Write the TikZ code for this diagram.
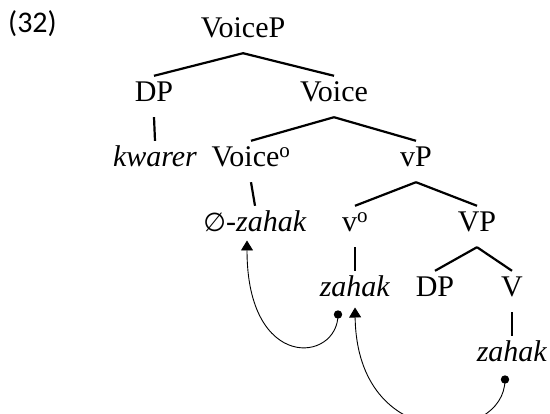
\documentclass[tikz,border=0pt]{standalone}
\usepackage{fontspec}
\setmainfont{Liberation Serif}
\newfontfamily\labelfont{Carlito}
\newfontfamily\symfont{DejaVu Sans}
\usetikzlibrary{arrows.meta,calc}
\tikzset{
  lbl/.style={anchor=base, font=\fontsize{30}{32}\selectfont, text height=17pt, text depth=6pt, inner ysep=9pt, inner xsep=0pt},
  branch/.style={line width=2.2pt},
  mv/.style={line width=0.9pt, -{Triangle[width=12pt,length=10pt]}},
  dotc/.style={fill=black}
}
\begin{document}
\begin{tikzpicture}[x=1pt,y=-1pt]
\useasboundingbox (0,0) rectangle (550,414);
\node[anchor=base west, inner sep=0pt, font=\labelfont\fontsize{30}{32}\selectfont] (num) at (8,33) {(32)};
% level 1
\node[lbl] (voicep) at (243,38) {VoiceP};
% level 2
\node[lbl] (dp1) at (154,102) {DP};
\node[lbl] (voice) at (334,102) {Voice};
% level 3
\node[lbl] (kwarer) at (155,167) {\textit{kwarer}};
\node[lbl] (voiceo) at (251,167) {Voice\textsuperscript{o}};
\node[lbl] (vp) at (416,167) {vP};
% level 4
\node[lbl] (zero) at (255,232) {{\symfont\fontsize{26}{30}\selectfont ∅}\textit{-zahak}};
\node[lbl] (vo) at (355,232) {v\textsuperscript{o}};
\node[lbl] (VP) at (477,232) {VP};
% level 5
\node[lbl] (z1) at (355,297) {\textit{zahak}};
\node[lbl] (dp2) at (435,297) {DP};
\node[lbl] (V) at (512,297) {V};
% level 6
\node[lbl] (z2) at (512,362) {\textit{zahak}};

\draw[branch] (voicep.south) -- (dp1.north);
\draw[branch] (voicep.south) -- (voice.north);
\draw[branch] (dp1.south) -- (kwarer.north);
\draw[branch] (voice.south) -- (voiceo.north);
\draw[branch] (voice.south) -- (vp.north);
\draw[branch] (voiceo.south) -- (zero.north);
\draw[branch] (vp.south) -- (vo.north);
\draw[branch] (vp.south) -- (VP.north);
\draw[branch] (vo.south) -- (z1.north);
\draw[branch] (VP.south) -- (dp2.north);
\draw[branch] (VP.south) -- (V.north);
\draw[branch] (V.south) -- (z2.north);

% movement arrows
\coordinate (a1s) at ($(z1)+(-17,23)$);
\coordinate (a1e) at ($(zero)+(-8,14)$);
\coordinate (a2s) at ($(z2)+(-7,23)$);
\coordinate (a2e) at ($(z1)+(0,16)$);
\draw[mv] (a1s) .. controls ($(a1s)+(0,48)$) and ($(a1e)+(0,132)$) .. (a1e);
\fill[dotc] (a1s) circle (4.2pt);
\draw[mv] (a2s) .. controls ($(a2s)+(0,65)$) and ($(a2e)+(2,147)$) .. (a2e);
\fill[dotc] (a2s) circle (4.2pt);
\end{tikzpicture}
\end{document}
